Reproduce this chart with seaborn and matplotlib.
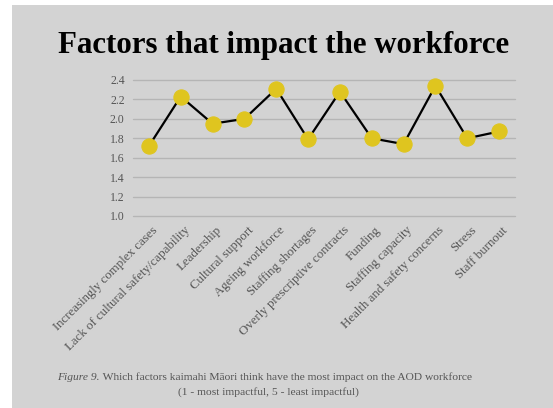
import matplotlib
matplotlib.use("Agg")
import matplotlib.pyplot as plt
import matplotlib.transforms as mtransforms
from matplotlib.patches import Rectangle
import seaborn as sns
import pandas as pd

categories = ["Increasingly complex cases", "Lack of cultural safety/capability", "Leadership",
              "Cultural support", "Ageing workforce", "Staffing shortages",
              "Overly prescriptive contracts", "Funding", "Staffing capacity",
              "Health and safety concerns", "Stress", "Staff burnout"]
values = [1.72, 2.23, 1.95, 2.00, 2.31, 1.79, 2.28, 1.80, 1.74, 2.34, 1.80, 1.87]
yticks = [1.0, 1.2, 1.4, 1.6, 1.8, 2.0, 2.2, 2.4]

title = "Factors that impact the workforce"
caption_fig = "Figure 9."
caption_rest = " Which factors kaimahi Māori think have the most impact on the AOD workforce"
caption_line2 = "(1 - most impactful, 5 - least impactful)"

sns.set_theme(style="white")
plt.rcParams["font.family"] = ["Liberation Serif", "DejaVu Serif"]

W, H = 553, 408
fig = plt.figure(figsize=(W / 100, H / 100), dpi=100)
fig.patch.set_facecolor("white")
bg = "#d3d3d3"
fig.patches.append(Rectangle((12 / W, 0), 1 - 12 / W, 1 - 5 / H, transform=fig.transFigure,
                             facecolor=bg, edgecolor="none", zorder=-10))

ax = fig.add_axes([133 / W, (H - 216) / H, (515 - 133) / W, (216 - 80) / H])
ax.set_facecolor(bg)

df = pd.DataFrame({"factor": categories, "value": values})
sns.lineplot(data=df, x="factor", y="value", ax=ax, color="black", linewidth=1.6,
             sort=False, marker="o", markersize=11, markerfacecolor="#dfc51f",
             markeredgecolor="#dfc51f", clip_on=False, zorder=3)

ax.set_xlim(-0.5, len(categories) - 0.5)
ax.set_ylim(1.0, 2.4)
ax.set_yticks(yticks)
ax.set_yticklabels([f"{v:.1f}" for v in yticks])
ax.yaxis.grid(True, color="#b5b5b5", linewidth=1.0)
ax.xaxis.grid(False)
for gl in ax.get_ygridlines():
    gl.set_clip_on(False)
for s in ax.spines.values():
    s.set_visible(False)
ax.set_xlabel("")
ax.set_ylabel("")
ax.tick_params(axis="y", length=0, pad=6, labelsize=8.5, labelcolor="#555555")
ax.tick_params(axis="x", length=0, pad=4, labelsize=9.3, labelcolor="#555555")
ax.set_xticks(range(len(categories)))
ax.set_xticklabels(categories, rotation=45, ha="right", rotation_mode="anchor", va="center")
offset = mtransforms.ScaledTranslation(7 / 100, -7 / 100, fig.dpi_scale_trans)
for lbl in ax.get_xticklabels():
    lbl.set_transform(lbl.get_transform() + offset)

fig.text(284 / W, 1 - 46 / H, title, ha="center", va="center", fontsize=22.2,
         fontweight="bold", color="black")

t1 = fig.text(57 / W, 1 - 377 / H, caption_fig, ha="left", va="center", fontsize=8.25,
              style="italic", color="#555555")
fig.canvas.draw()
bb = t1.get_window_extent()
fig.text(bb.x1 / W, 1 - 377 / H, caption_rest, ha="left", va="center", fontsize=8.25,
         color="#555555")
fig.text(268 / W, 1 - 392 / H, caption_line2, ha="center", va="center", fontsize=8.25,
         color="#555555")

fig.savefig("out.png", dpi=100, facecolor=fig.get_facecolor())
